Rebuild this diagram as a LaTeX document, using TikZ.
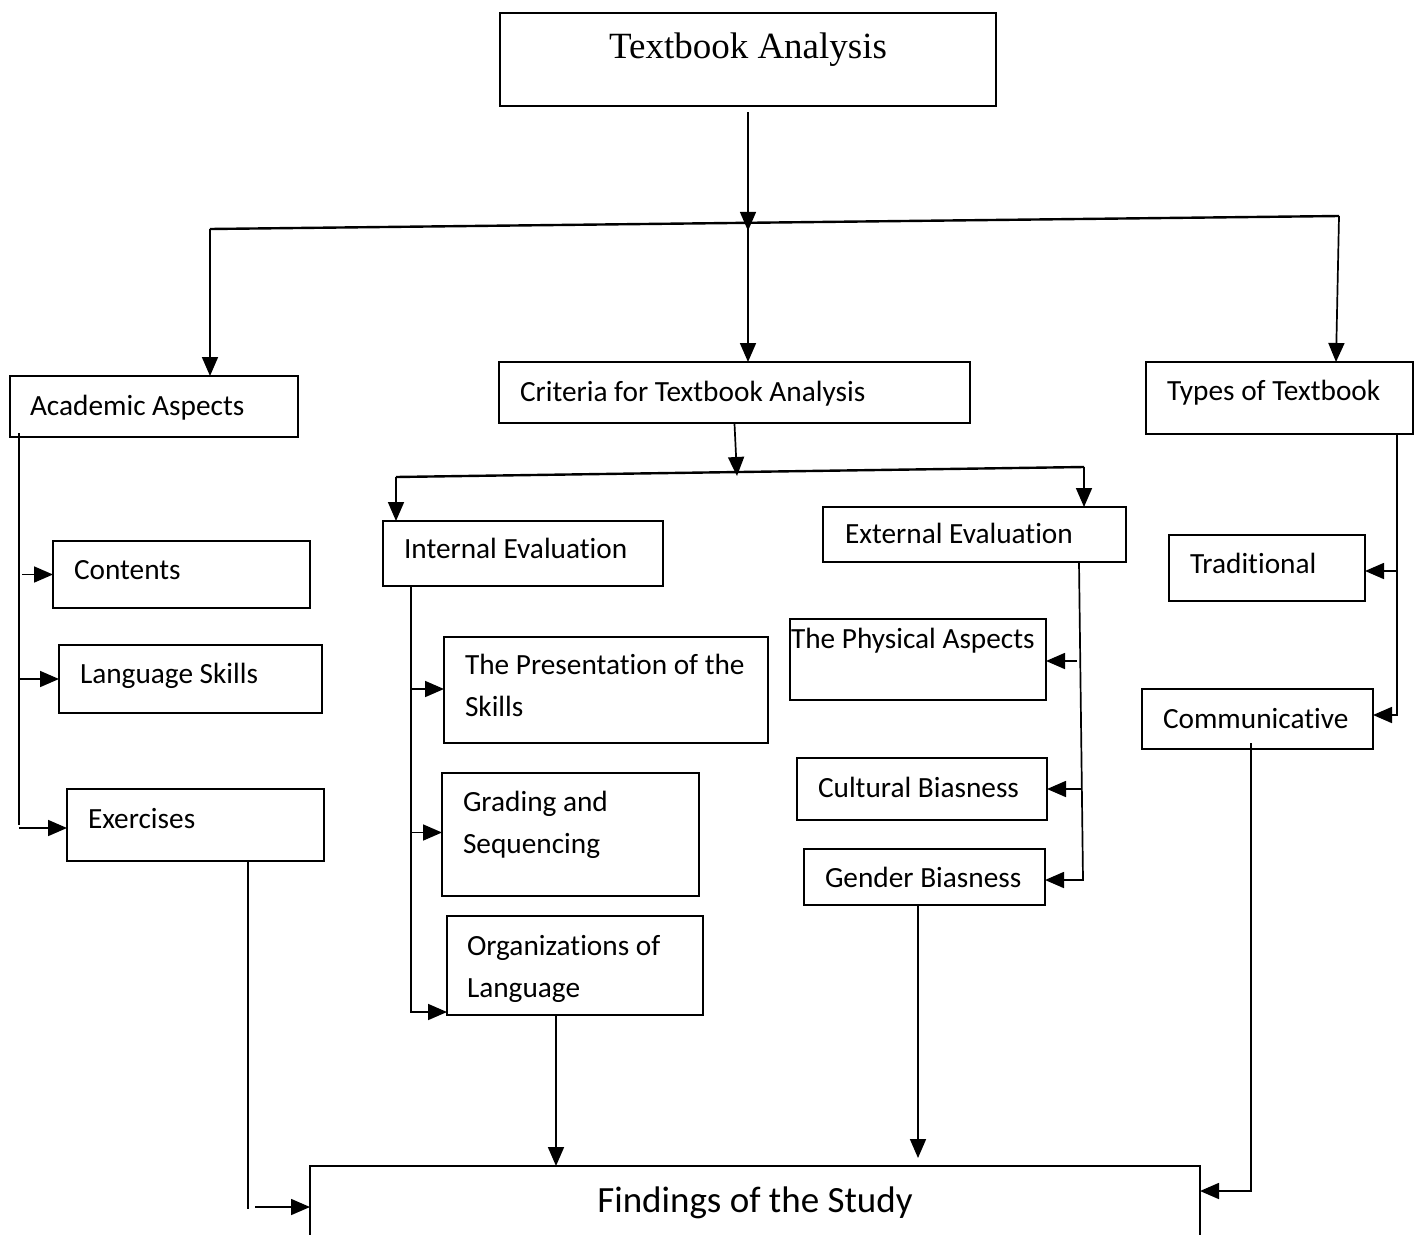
\documentclass[tikz,border=0pt]{standalone}
\usepackage{fontspec}
\setmainfont{Carlito}[Ligatures=NoCommon]
\newfontfamily\serifT{Liberation Serif}
\usetikzlibrary{arrows.meta}
\tikzset{
  box/.style={draw, line width=1.9pt, inner sep=0pt, outer sep=0pt, anchor=north west},
  txt/.style={inner sep=0pt, outer sep=0pt, anchor=base west, align=left, font=\fontsize{29.3}{41.5}\selectfont},
  conn/.style={line width=1.7pt},
  bus/.style={line width=2.4pt},
  arr/.style={conn, -{Triangle[length=19pt,width=16pt]}},
}
\begin{document}
\begin{tikzpicture}[x=1pt,y=-1pt]
\useasboundingbox[fill=white] (0,0) rectangle (1421,1234);

% boxes
\node[box, minimum width=496pt, minimum height=93pt] (title) at (500,13) {};
\node[box, minimum width=288pt, minimum height=61pt] (acad) at (10,376) {};
\node[box, minimum width=471pt, minimum height=61pt] (crit) at (499,362) {};
\node[box, minimum width=267pt, minimum height=72pt] (types) at (1146,362) {};
\node[box, minimum width=257pt, minimum height=67pt] (cont) at (53,541) {};
\node[box, minimum width=263pt, minimum height=68pt] (lang) at (59,645) {};
\node[box, minimum width=257pt, minimum height=72pt] (exer) at (67,789) {};
\node[box, minimum width=280pt, minimum height=65pt] (intern) at (383,521) {};
\node[box, minimum width=303pt, minimum height=55pt] (extern) at (823,507) {};
\node[box, minimum width=324pt, minimum height=106pt] (pres) at (444,637) {};
\node[box, minimum width=257pt, minimum height=123pt] (grad) at (442,773) {};
\node[box, minimum width=256pt, minimum height=99pt] (org) at (447,916) {};
\node[box, minimum width=256pt, minimum height=81pt] (phys) at (790,619) {};
\node[box, minimum width=250pt, minimum height=62pt] (cult) at (797,758) {};
\node[box, minimum width=241pt, minimum height=56pt] (gend) at (804,849) {};
\node[box, minimum width=196pt, minimum height=66pt] (trad) at (1169,535) {};
\node[box, minimum width=231pt, minimum height=60pt] (comm) at (1142,689) {};
\node[box, minimum width=890pt, minimum height=110pt] (find) at (310,1166) {};

% texts
\node[inner sep=0pt, anchor=base, font=\serifT\fontsize{37}{44}\selectfont] (titleT) at (748,58) {Textbook Analysis};
\node[txt] (acadT) at (30,415) {Academic Aspects};
\node[txt] (critT) at (520,401) {Criteria for Textbook Analysis};
\node[txt] (typesT) at (1167,400) {Types of Textbook};
\node[txt] (contT) at (74,579) {Contents};
\node[txt] (langT) at (80,683) {Language Skills};
\node[txt] (exerT) at (88,828) {Exercises};
\node[txt] (internT) at (404,558) {Internal Evaluation};
\node[txt] (externT) at (845,543) {External Evaluation};
\node[txt] (presT) at (465,716) {The Presentation of the\\Skills};
\node[txt] (gradT) at (463,853) {Grading and\\Sequencing};
\node[txt] (orgT) at (467,997) {Organizations of\\Language};
\node[txt] (physT) at (791,648) {The Physical Aspects};
\node[txt] (cultT) at (818,797) {Cultural Biasness};
\node[txt] (gendT) at (825,887) {Gender Biasness};
\node[txt] (tradT) at (1190,573) {Traditional};
\node[txt] (commT) at (1163,728) {Communicative};
\node[inner sep=0pt, anchor=base, font=\fontsize{37}{44}\selectfont] (findT) at (755,1212) {Findings of the Study};

% top level
\coordinate (busL) at (210,229);
\coordinate (busM) at (748,222.8);
\coordinate (busR) at (1339,216);
\draw[arr] ([yshift=-6pt]title.south) -- ([yshift=-8pt]busM);
\draw[bus] (busL) -- (busR);
\draw[arr] (busL) -- (busL |- acad.north);
\draw[arr] ([yshift=-6pt]busM) -- (busM |- crit.north);
\draw[arr] (busR) -- ([xshift=-3pt]busR |- types.north);

% academic aspects
\coordinate (aTop) at (19,433);
\coordinate (aBot) at (19,825);
\draw[conn] (aTop) -- (aBot);
\draw[arr] ([xshift=3pt]aTop |- cont.west) -- (cont.west);
\draw[arr] (aTop |- lang.west) -- (lang.west);
\draw[arr] ([yshift=-3pt]aTop |- exer.west) -- ([yshift=-3pt]exer.west);
\coordinate (exD) at (248,1207);
\draw[conn] (exer.south -| exD) -- ([yshift=-2pt]exD);
\draw[arr] ([xshift=7pt]exD) -- (exD -| find.west);

% criteria
\coordinate (b2L) at (396,477);
\coordinate (b2M) at (737,472);
\coordinate (b2R) at (1084,467);
\draw[arr] ([yshift=-1pt]crit.south) -- ([yshift=-4pt]b2M);
\draw[bus] (b2L) -- (b2R);
\draw[arr] (b2L) -- (b2L |- intern.north);
\draw[arr] (b2R) -- (b2R |- extern.north);

% internal
\coordinate (iBot) at (411,1012);
\draw[arr] (intern.south -| iBot) -- (iBot) -- (iBot -| org.west);
\draw[arr] ([yshift=1pt]iBot |- pres.west) -- ([yshift=1pt]pres.west);
\draw[arr] ([yshift=2pt]iBot |- grad.west) -- ([yshift=2pt]grad.west);
\coordinate (oD) at (556,1166);
\draw[arr] (org.south -| oD) -- (oD);

% external
\coordinate (eTop) at (1079,562);
\coordinate (eBot) at (1083,880);
\draw[arr] (eTop) -- (eBot) -- (eBot -| gend.east);
\draw[arr] (1077,661) -- (phys.east |- 0,661);
\draw[arr] (1081,789) -- (cult.east);
\coordinate (gD) at (918,1158);
\draw[arr] (gend.south -| gD) -- (gD);

% types
\coordinate (tBot) at (1397,715);
\draw[arr] (types.south -| tBot) -- (tBot) -- (tBot -| comm.east);
\draw[arr] (tBot |- 0,571) -- (trad.east |- 0,571);
\coordinate (cD) at (1251,1191);
\draw[arr] ([yshift=6pt]comm.south -| cD) -- (cD) -- (cD -| find.east);
\end{tikzpicture}
\end{document}
